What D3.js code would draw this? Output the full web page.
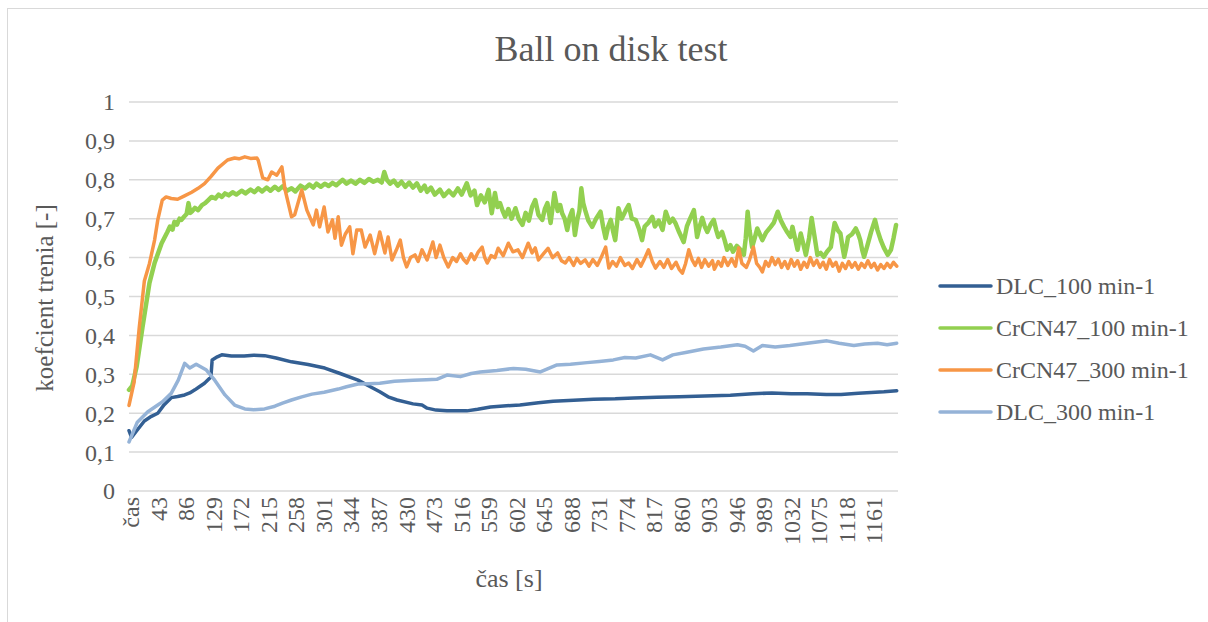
<!DOCTYPE html>
<html>
<head>
<meta charset="utf-8">
<script src="https://cdn.jsdelivr.net/npm/d3@7"></script>
<style>
  html, body { margin: 0; padding: 0; background: #fff; }
  svg { display: block; }
  text { font-family: 'Liberation Serif', 'Times New Roman', serif; fill: #595959; }
</style>
</head>
<body>
<div id="chart"></div>
<script>
// x tick labels (category axis, every 43 s; first label is the header "čas")
const tickTimes = [0, 43, 86, 129, 172, 215, 258, 301, 344, 387, 430, 473, 516, 559, 602, 645, 688, 731, 774, 817, 860, 903, 946, 989, 1032, 1075, 1118, 1161];
const tickLabels = ['čas', '43', '86', '129', '172', '215', '258', '301', '344', '387', '430', '473', '516', '559', '602', '645', '688', '731', '774', '817', '860', '903', '946', '989', '1032', '1075', '1118', '1161'];
const yTicks = [0, 0.1, 0.2, 0.3, 0.4, 0.5, 0.6, 0.7, 0.8, 0.9, 1];

const seriesNames = ['DLC_100 min-1', 'CrCN47_100 min-1', 'CrCN47_300 min-1', 'DLC_300 min-1'];
const seriesColors = ['#335f93', '#92d050', '#f79646', '#95b3d7'];
const seriesWidths = [3.5, 4.5, 3.5, 3.5]; // green trace is a dense noisy band

// [time s, friction coefficient]
const dlc100 = [[0,0.155],[4,0.138],[12,0.155],[24,0.18],[35,0.192],[45,0.20],[55,0.222],[66,0.24],[76,0.243],[87,0.247],[95,0.252],[103,0.26],[110,0.268],[118,0.277],[128,0.293],[130,0.337],[138,0.345],[145,0.35],[160,0.347],[180,0.347],[195,0.349],[212,0.348],[230,0.342],[254,0.332],[280,0.325],[306,0.316],[330,0.302],[358,0.285],[375,0.27],[392,0.255],[405,0.242],[419,0.234],[444,0.224],[458,0.221],[466,0.213],[480,0.208],[497,0.206],[528,0.206],[545,0.21],[565,0.216],[590,0.219],[611,0.221],[640,0.227],[663,0.231],[695,0.233],[726,0.236],[760,0.237],[789,0.239],[825,0.241],[860,0.242],[900,0.244],[940,0.246],[975,0.25],[1005,0.252],[1035,0.25],[1060,0.25],[1090,0.248],[1113,0.248],[1140,0.251],[1160,0.253],[1180,0.255],[1200,0.258]];

const crcn100 = [[0,0.26],[5,0.27],[12,0.32],[21,0.42],[32,0.535],[40,0.586],[51,0.637],[60,0.666],[64,0.68],[68,0.672],[71,0.692],[75,0.685],[79,0.70],[82,0.697],[86,0.705],[90,0.712],[93,0.74],[96,0.715],[98,0.718],[103,0.728],[108,0.722],[114,0.735],[119,0.74],[124,0.748],[129,0.756],[135,0.752],[140,0.762],[145,0.756],[150,0.765],[156,0.76],[162,0.768],[168,0.762],[176,0.772],[182,0.765],[190,0.775],[196,0.768],[202,0.778],[208,0.77],[215,0.78],[221,0.772],[228,0.782],[234,0.774],[240,0.783],[247,0.772],[254,0.778],[260,0.77],[268,0.785],[275,0.778],[282,0.788],[288,0.78],[293,0.79],[300,0.782],[306,0.79],[312,0.784],[318,0.792],[324,0.786],[334,0.80],[340,0.79],[347,0.798],[354,0.79],[361,0.80],[368,0.792],[375,0.802],[382,0.795],[389,0.80],[395,0.793],[399,0.82],[403,0.80],[408,0.79],[414,0.798],[420,0.785],[426,0.795],[432,0.782],[438,0.793],[444,0.78],[450,0.791],[456,0.772],[462,0.785],[466,0.769],[472,0.78],[478,0.762],[486,0.775],[492,0.758],[500,0.772],[507,0.76],[514,0.778],[520,0.762],[528,0.791],[534,0.76],[540,0.772],[544,0.735],[550,0.76],[556,0.742],[562,0.774],[567,0.714],[572,0.766],[576,0.73],[580,0.74],[584,0.72],[588,0.705],[593,0.725],[598,0.70],[604,0.727],[609,0.70],[615,0.684],[620,0.715],[625,0.695],[630,0.73],[635,0.748],[640,0.71],[646,0.697],[650,0.725],[654,0.74],[659,0.689],[665,0.766],[670,0.72],[674,0.735],[677,0.714],[681,0.70],[685,0.671],[689,0.705],[693,0.722],[697,0.658],[701,0.70],[704,0.72],[707,0.778],[710,0.74],[713,0.722],[718,0.695],[724,0.679],[730,0.70],[737,0.718],[741,0.68],[745,0.65],[749,0.68],[753,0.697],[757,0.665],[760,0.645],[763,0.69],[765,0.727],[770,0.70],[776,0.72],[781,0.735],[786,0.70],[792,0.697],[797,0.675],[802,0.645],[806,0.68],[812,0.69],[818,0.705],[822,0.68],[828,0.695],[834,0.671],[839,0.718],[845,0.69],[850,0.70],[854,0.689],[860,0.665],[867,0.64],[872,0.68],[877,0.70],[883,0.722],[888,0.653],[892,0.68],[896,0.702],[900,0.68],[904,0.666],[909,0.685],[914,0.697],[918,0.67],[921,0.653],[927,0.666],[931,0.645],[935,0.62],[940,0.632],[944,0.615],[950,0.63],[956,0.62],[961,0.607],[964,0.65],[967,0.718],[970,0.67],[974,0.627],[978,0.65],[982,0.675],[986,0.66],[990,0.645],[996,0.665],[1003,0.679],[1008,0.69],[1014,0.718],[1019,0.695],[1024,0.679],[1029,0.665],[1034,0.653],[1037,0.679],[1041,0.65],[1045,0.62],[1050,0.662],[1054,0.635],[1058,0.607],[1063,0.65],[1067,0.702],[1071,0.66],[1076,0.607],[1081,0.612],[1086,0.602],[1091,0.615],[1097,0.627],[1100,0.66],[1103,0.689],[1108,0.67],[1112,0.662],[1115,0.63],[1118,0.602],[1121,0.625],[1124,0.653],[1130,0.66],[1136,0.675],[1140,0.66],[1143,0.645],[1146,0.62],[1149,0.602],[1154,0.63],[1160,0.666],[1166,0.697],[1170,0.67],[1175,0.645],[1180,0.625],[1186,0.607],[1191,0.62],[1195,0.65],[1199,0.684]];

const crcn300 = [[0,0.22],[8,0.28],[16,0.42],[24,0.54],[32,0.585],[40,0.645],[45,0.697],[52,0.748],[58,0.756],[66,0.752],[76,0.75],[86,0.758],[98,0.768],[108,0.778],[118,0.79],[128,0.808],[139,0.83],[154,0.851],[165,0.856],[172,0.854],[181,0.859],[190,0.855],[200,0.856],[202,0.85],[209,0.805],[217,0.80],[223,0.82],[231,0.812],[239,0.833],[244,0.774],[254,0.705],[259,0.71],[270,0.774],[278,0.722],[288,0.684],[293,0.722],[298,0.679],[305,0.73],[311,0.666],[318,0.697],[322,0.65],[327,0.705],[332,0.632],[338,0.66],[345,0.679],[350,0.61],[356,0.671],[363,0.671],[369,0.627],[377,0.658],[384,0.61],[392,0.666],[400,0.612],[405,0.653],[411,0.594],[418,0.62],[424,0.645],[429,0.60],[434,0.576],[440,0.60],[447,0.607],[452,0.59],[458,0.62],[466,0.594],[475,0.64],[480,0.60],[486,0.632],[492,0.60],[499,0.576],[506,0.60],[512,0.59],[518,0.61],[523,0.595],[528,0.586],[535,0.61],[540,0.595],[546,0.615],[552,0.627],[556,0.60],[560,0.586],[566,0.605],[572,0.60],[577,0.624],[585,0.605],[593,0.637],[600,0.615],[608,0.62],[615,0.60],[624,0.637],[630,0.612],[635,0.625],[640,0.594],[648,0.61],[655,0.624],[662,0.60],[670,0.612],[676,0.592],[682,0.586],[688,0.60],[695,0.58],[700,0.598],[706,0.585],[713,0.594],[719,0.578],[725,0.595],[732,0.58],[738,0.60],[745,0.627],[750,0.573],[756,0.59],[762,0.578],[768,0.60],[775,0.58],[781,0.586],[787,0.572],[794,0.595],[800,0.578],[806,0.598],[812,0.62],[818,0.59],[823,0.573],[830,0.59],[836,0.575],[842,0.595],[848,0.572],[855,0.588],[860,0.57],[865,0.56],[870,0.585],[875,0.62],[880,0.595],[885,0.58],[890,0.598],[895,0.575],[900,0.595],[906,0.578],[912,0.592],[915,0.57],[921,0.59],[926,0.578],[930,0.60],[936,0.58],[942,0.597],[948,0.578],[953,0.625],[958,0.585],[965,0.575],[970,0.595],[976,0.627],[981,0.585],[986,0.575],[990,0.563],[995,0.59],[1000,0.578],[1005,0.60],[1010,0.582],[1015,0.596],[1020,0.575],[1025,0.59],[1030,0.572],[1035,0.595],[1040,0.578],[1045,0.592],[1050,0.57],[1055,0.588],[1060,0.575],[1065,0.60],[1070,0.58],[1075,0.593],[1080,0.575],[1085,0.588],[1090,0.57],[1095,0.595],[1100,0.578],[1105,0.588],[1110,0.565],[1115,0.585],[1120,0.572],[1125,0.59],[1130,0.575],[1135,0.587],[1140,0.57],[1145,0.585],[1150,0.575],[1155,0.592],[1160,0.575],[1165,0.585],[1170,0.568],[1175,0.582],[1180,0.572],[1185,0.585],[1190,0.575],[1195,0.588],[1200,0.578]];

const dlc300 = [[0,0.126],[13,0.177],[29,0.203],[45,0.221],[52,0.229],[66,0.251],[77,0.285],[87,0.328],[95,0.316],[105,0.326],[121,0.311],[134,0.285],[150,0.247],[165,0.221],[181,0.211],[195,0.209],[212,0.211],[228,0.218],[240,0.226],[254,0.234],[270,0.242],[286,0.249],[305,0.254],[327,0.262],[340,0.268],[358,0.275],[375,0.276],[392,0.277],[415,0.282],[444,0.285],[465,0.286],[481,0.287],[497,0.298],[518,0.294],[535,0.302],[549,0.306],[575,0.31],[601,0.315],[620,0.313],[643,0.306],[669,0.324],[690,0.326],[716,0.33],[735,0.333],[757,0.337],[775,0.343],[792,0.342],[815,0.35],[834,0.337],[850,0.35],[870,0.356],[898,0.365],[925,0.37],[951,0.376],[963,0.372],[976,0.36],[990,0.374],[1010,0.37],[1033,0.374],[1060,0.38],[1091,0.386],[1110,0.38],[1133,0.374],[1150,0.378],[1170,0.38],[1185,0.376],[1200,0.38]];

const seriesData = [dlc100, crcn100, crcn300, dlc300];

const W = 1208, H = 622;
const plot = { left: 129, right: 898, top: 102, bottom: 491 };

const svg = d3.select('#chart').append('svg')
  .attr('width', W).attr('height', H)
  .attr('font-family', "'Liberation Serif', 'Times New Roman', serif");

// chart area border
svg.append('rect')
  .attr('x', 7.5).attr('y', 8.5)
  .attr('width', W + 10).attr('height', H + 10)
  .attr('fill', '#fff').attr('stroke', '#d9d9d9').attr('stroke-width', 1);

const x = d3.scaleLinear().domain([0, 1202]).range([plot.left, plot.right]);
const y = d3.scaleLinear().domain([0, 1]).range([plot.bottom, plot.top]);
const fmt = d3.formatLocale({ decimal: ',', thousands: ' ', grouping: [3], currency: ['', ''] }).format('~g');

// gridlines
svg.append('g').attr('class', 'grid')
  .selectAll('line')
  .data(yTicks).enter()
  .append('line')
  .attr('x1', plot.left).attr('x2', plot.right)
  .attr('y1', d => y(d)).attr('y2', d => y(d))
  .attr('stroke', '#d9d9d9').attr('stroke-width', 1.5);

// y tick labels
svg.append('g').attr('class', 'y-labels')
  .selectAll('text')
  .data(yTicks).enter()
  .append('text')
  .attr('x', 115).attr('y', d => y(d))
  .attr('dy', '0.35em')
  .attr('text-anchor', 'end')
  .style('font-size', '24px')
  .text(d => fmt(d));

// x tick labels, rotated
svg.append('g').attr('class', 'x-labels')
  .selectAll('text')
  .data(tickTimes).enter()
  .append('text')
  .attr('transform', d => 'translate(' + (x(d) + 2) + ',' + 497 + ') rotate(-90)')
  .attr('dy', '0.35em')
  .attr('text-anchor', 'end')
  .style('font-size', '24px')
  .text((d, i) => tickLabels[i]);

// series lines
const line = d3.line().x(d => x(d[0])).y(d => y(d[1]));
svg.append('g').attr('class', 'series')
  .selectAll('path')
  .data(seriesData).enter()
  .append('path')
  .attr('d', line)
  .attr('fill', 'none')
  .attr('stroke', (d, i) => seriesColors[i])
  .attr('stroke-width', (d, i) => seriesWidths[i])
  .attr('stroke-linejoin', 'round')
  .attr('stroke-linecap', 'round');

// title
svg.append('text')
  .attr('x', 611).attr('y', 61)
  .attr('text-anchor', 'middle')
  .style('font-size', '36px')
  .text('Ball on disk test');

// axis titles
svg.append('text')
  .attr('x', 509).attr('y', 587)
  .attr('text-anchor', 'middle')
  .style('font-size', '26px')
  .text('čas [s]');

svg.append('text')
  .attr('transform', 'translate(44,' + 298 + ') rotate(-90)')
  .attr('dy', '0.35em')
  .attr('text-anchor', 'middle')
  .style('font-size', '25px')
  .text('koefcient trenia [-]');

// legend
const legend = svg.append('g').attr('class', 'legend')
  .selectAll('g')
  .data(seriesNames).enter()
  .append('g')
  .attr('transform', (d, i) => 'translate(940,' + (286 + i * 42) + ')');
legend.append('line')
  .attr('x1', 0).attr('x2', 51)
  .attr('stroke', (d, i) => seriesColors[i])
  .attr('stroke-width', 3.5)
  .attr('stroke-linecap', 'round');
legend.append('text')
  .attr('x', 56).attr('dy', '0.35em')
  .style('font-size', '24px')
  .text(d => d);
</script>
</body>
</html>
